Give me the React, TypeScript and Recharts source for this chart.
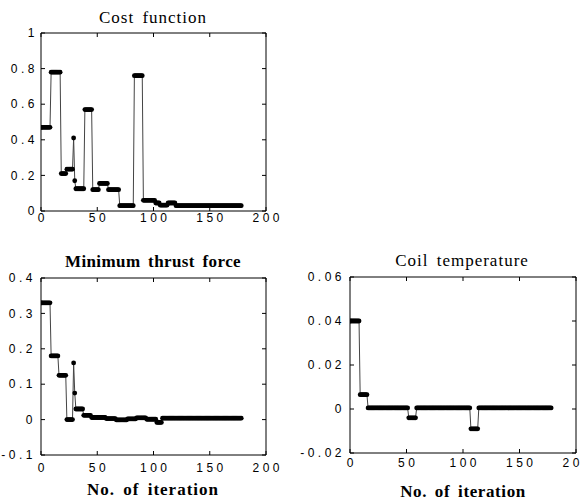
import { Line, LineChart, ReferenceArea, ReferenceLine, XAxis, YAxis } from "recharts"

// iteration ticks shared by all three panels
const iterTicks = [0, 50, 100, 150, 200]
const costTicks = [0, 0.2, 0.4, 0.6, 0.8, 1]
const thrustTicks = [-0.1, 0, 0.1, 0.2, 0.3, 0.4]
const coilTicks = [-0.02, 0, 0.02, 0.04, 0.06]

// one value per iteration (0..178)
const costFunction = [
  0.47, 0.47, 0.47, 0.47, 0.47, 0.47, 0.47, 0.47, 0.47, 0.78,
  0.78, 0.78, 0.78, 0.78, 0.78, 0.78, 0.78, 0.78, 0.21, 0.21,
  0.21, 0.21, 0.21, 0.235, 0.235, 0.235, 0.235, 0.235, 0.235, 0.41,
  0.17, 0.125, 0.125, 0.125, 0.125, 0.125, 0.125, 0.125, 0.125, 0.57,
  0.57, 0.57, 0.57, 0.57, 0.57, 0.57, 0.12, 0.12, 0.12, 0.12,
  0.12, 0.12, 0.155, 0.155, 0.155, 0.155, 0.155, 0.155, 0.155, 0.155,
  0.12, 0.12, 0.12, 0.12, 0.12, 0.12, 0.12, 0.12, 0.12, 0.12,
  0.03, 0.03, 0.03, 0.03, 0.03, 0.03, 0.03, 0.03, 0.03, 0.03,
  0.03, 0.03, 0.03, 0.76, 0.76, 0.76, 0.76, 0.76, 0.76, 0.76,
  0.76, 0.06, 0.06, 0.06, 0.06, 0.06, 0.06, 0.06, 0.06, 0.06,
  0.06, 0.06, 0.045, 0.045, 0.045, 0.045, 0.033, 0.033, 0.033, 0.033,
  0.033, 0.033, 0.033, 0.045, 0.045, 0.045, 0.045, 0.045, 0.045, 0.045,
  0.03, 0.03, 0.03, 0.03, 0.03, 0.03, 0.03, 0.03, 0.03, 0.03,
  0.03, 0.03, 0.03, 0.03, 0.03, 0.03, 0.03, 0.03, 0.03, 0.03,
  0.03, 0.03, 0.03, 0.03, 0.03, 0.03, 0.03, 0.03, 0.03, 0.03,
  0.03, 0.03, 0.03, 0.03, 0.03, 0.03, 0.03, 0.03, 0.03, 0.03,
  0.03, 0.03, 0.03, 0.03, 0.03, 0.03, 0.03, 0.03, 0.03, 0.03,
  0.03, 0.03, 0.03, 0.03, 0.03, 0.03, 0.03, 0.03, 0.03,
]

const thrustForce = [
  0.33, 0.33, 0.33, 0.33, 0.33, 0.33, 0.33, 0.33, 0.33, 0.18,
  0.18, 0.18, 0.18, 0.18, 0.18, 0.18, 0.125, 0.125, 0.125, 0.125,
  0.125, 0.125, 0.125, 0, 0, 0, 0, 0, 0, 0.16,
  0.075, 0.03, 0.03, 0.03, 0.03, 0.03, 0.03, 0.03, 0.012, 0.012,
  0.012, 0.012, 0.012, 0.012, 0.012, 0.006, 0.006, 0.006, 0.006, 0.006,
  0.006, 0.006, 0.006, 0.006, 0.006, 0.006, 0.006, 0.006, 0.003, 0.003,
  0.003, 0.003, 0.003, 0.003, 0.003, 0.003, 0.003, -0.001, -0.001, -0.001,
  -0.001, -0.001, -0.001, -0.001, -0.001, -0.001, -0.001, 0.002, 0.002, 0.002,
  0.002, 0.002, 0.002, 0.002, 0.002, 0.005, 0.005, 0.005, 0.005, 0.005,
  0.005, 0.005, 0.005, 0.005, 0.001, 0.001, 0.001, 0.001, 0.001, 0.001,
  0.001, 0.001, 0.001, -0.008, -0.008, -0.008, -0.008, -0.008, 0.004, 0.004,
  0.004, 0.004, 0.004, 0.004, 0.004, 0.004, 0.004, 0.004, 0.004, 0.004,
  0.004, 0.004, 0.004, 0.004, 0.004, 0.004, 0.004, 0.004, 0.004, 0.004,
  0.004, 0.004, 0.004, 0.004, 0.004, 0.004, 0.004, 0.004, 0.004, 0.004,
  0.004, 0.004, 0.004, 0.004, 0.004, 0.004, 0.004, 0.004, 0.004, 0.004,
  0.004, 0.004, 0.004, 0.004, 0.004, 0.004, 0.004, 0.004, 0.004, 0.004,
  0.004, 0.004, 0.004, 0.004, 0.004, 0.004, 0.004, 0.004, 0.004, 0.004,
  0.004, 0.004, 0.004, 0.004, 0.004, 0.004, 0.004, 0.004, 0.004,
]

const coilTemperature = [
  0.04, 0.04, 0.04, 0.04, 0.04, 0.04, 0.04, 0.04, 0.04, 0.0065,
  0.0065, 0.0065, 0.0065, 0.0065, 0.0065, 0.0065, 0.0005, 0.0005, 0.0005, 0.0005,
  0.0005, 0.0005, 0.0005, 0.0005, 0.0005, 0.0005, 0.0005, 0.0005, 0.0005, 0.0005,
  0.0005, 0.0005, 0.0005, 0.0005, 0.0005, 0.0005, 0.0005, 0.0005, 0.0005, 0.0005,
  0.0005, 0.0005, 0.0005, 0.0005, 0.0005, 0.0005, 0.0005, 0.0005, 0.0005, 0.0005,
  0.0005, 0.0005, -0.004, -0.004, -0.004, -0.004, -0.004, -0.004, -0.004, 0.0005,
  0.0005, 0.0005, 0.0005, 0.0005, 0.0005, 0.0005, 0.0005, 0.0005, 0.0005, 0.0005,
  0.0005, 0.0005, 0.0005, 0.0005, 0.0005, 0.0005, 0.0005, 0.0005, 0.0005, 0.0005,
  0.0005, 0.0005, 0.0005, 0.0005, 0.0005, 0.0005, 0.0005, 0.0005, 0.0005, 0.0005,
  0.0005, 0.0005, 0.0005, 0.0005, 0.0005, 0.0005, 0.0005, 0.0005, 0.0005, 0.0005,
  0.0005, 0.0005, 0.0005, 0.0005, 0.0005, 0.0005, 0.0005, -0.009, -0.009, -0.009,
  -0.009, -0.009, -0.009, -0.009, 0.0005, 0.0005, 0.0005, 0.0005, 0.0005, 0.0005,
  0.0005, 0.0005, 0.0005, 0.0005, 0.0005, 0.0005, 0.0005, 0.0005, 0.0005, 0.0005,
  0.0005, 0.0005, 0.0005, 0.0005, 0.0005, 0.0005, 0.0005, 0.0005, 0.0005, 0.0005,
  0.0005, 0.0005, 0.0005, 0.0005, 0.0005, 0.0005, 0.0005, 0.0005, 0.0005, 0.0005,
  0.0005, 0.0005, 0.0005, 0.0005, 0.0005, 0.0005, 0.0005, 0.0005, 0.0005, 0.0005,
  0.0005, 0.0005, 0.0005, 0.0005, 0.0005, 0.0005, 0.0005, 0.0005, 0.0005, 0.0005,
  0.0005, 0.0005, 0.0005, 0.0005, 0.0005, 0.0005, 0.0005, 0.0005, 0.0005,
]

const TICK_LEN = 4
const tickText = {
  fontFamily: "Arial, 'Liberation Sans', sans-serif",
  fontSize: 12,
  letterSpacing: 3.5,
  fill: "#000",
}

const serif = "'Liberation Serif', 'Times New Roman', serif"

type PanelProps = {
  values: number[]
  yTicks: number[]
  left: number
  top: number
  width: number
  height: number
  margin: { top: number; right: number; bottom: number; left: number }
  yAxisWidth: number
  xAxisHeight: number
  xLabelDy: number
  yLabelGap: number
}

function Panel({
  values,
  yTicks,
  left,
  top,
  width,
  height,
  margin,
  yAxisWidth,
  xAxisHeight,
  xLabelDy,
  yLabelGap,
}: PanelProps) {
  const data = values.map((v, i) => ({ it: i, v }))
  const yMin = yTicks[0]
  const yMax = yTicks[yTicks.length - 1]

  // inward tick length expressed in data units of each axis
  const plotW = width - margin.left - margin.right - yAxisWidth
  const plotH = height - margin.top - margin.bottom - xAxisHeight
  const dx = (TICK_LEN * 200) / plotW
  const dy = (TICK_LEN * (yMax - yMin)) / plotH

  const tickLine = { stroke: "#000", strokeWidth: 1, ifOverflow: "visible" as const }

  return (
    <div style={{ position: "absolute", left, top }}>
      <LineChart width={width} height={height} data={data} margin={margin}>
        <XAxis
          xAxisId="b"
          dataKey="it"
          type="number"
          domain={[0, 200]}
          ticks={iterTicks}
          interval={0}
          allowDataOverflow
          height={xAxisHeight}
          axisLine={false}
          tickLine={false}
          tickSize={0}
          tickMargin={0}
          tick={(p: any) => (
            <text x={p.x + 1.75} y={p.y + xLabelDy} textAnchor="middle" style={tickText}>
              {String(p.payload.value)}
            </text>
          )}
        />
        <YAxis
          yAxisId="l"
          dataKey="v"
          type="number"
          domain={[yMin, yMax]}
          ticks={yTicks}
          interval={0}
          allowDataOverflow
          width={yAxisWidth}
          axisLine={false}
          tickLine={false}
          tickSize={0}
          tickMargin={0}
          tick={(p: any) => (
            <text x={p.x - yLabelGap} y={p.y} dy="0.35em" textAnchor="end" style={tickText}>
              {String(p.payload.value)}
            </text>
          )}
        />

        {/* frame */}
        <ReferenceArea
          xAxisId="b"
          yAxisId="l"
          x1={0}
          x2={200}
          y1={yMin}
          y2={yMax}
          fill="none"
          stroke="#000"
          strokeWidth={1}
          ifOverflow="visible"
        />

        {/* inward ticks on all four sides */}
        {iterTicks.map((t) => (
          <ReferenceLine
            key={`xb${t}`}
            xAxisId="b"
            yAxisId="l"
            segment={[{ x: t, y: yMin }, { x: t, y: yMin + dy }]}
            {...tickLine}
          />
        ))}
        {iterTicks.map((t) => (
          <ReferenceLine
            key={`xt${t}`}
            xAxisId="b"
            yAxisId="l"
            segment={[{ x: t, y: yMax }, { x: t, y: yMax - dy }]}
            {...tickLine}
          />
        ))}
        {yTicks.map((t) => (
          <ReferenceLine
            key={`yl${t}`}
            xAxisId="b"
            yAxisId="l"
            segment={[{ x: 0, y: t }, { x: dx, y: t }]}
            {...tickLine}
          />
        ))}
        {yTicks.map((t) => (
          <ReferenceLine
            key={`yr${t}`}
            xAxisId="b"
            yAxisId="l"
            segment={[{ x: 200, y: t }, { x: 200 - dx, y: t }]}
            {...tickLine}
          />
        ))}

        <Line
          xAxisId="b"
          yAxisId="l"
          type="linear"
          dataKey="v"
          stroke="#444"
          strokeWidth={1}
          dot={{ r: 2.4, fill: "#000", stroke: "none", strokeWidth: 0 }}
          isAnimationActive={false}
        />
      </LineChart>
    </div>
  )
}

function Caption({
  x,
  y,
  text,
  size,
  bold,
  spacing = 1,
}: {
  x: number
  y: number
  text: string
  size: number
  bold?: boolean
  spacing?: number
}) {
  return (
    <div
      style={{
        position: "absolute",
        left: x,
        top: y,
        transform: "translate(-50%, -50%)",
        whiteSpace: "nowrap",
        lineHeight: 1,
        fontFamily: serif,
        fontSize: size,
        fontWeight: bold ? 700 : 400,
        letterSpacing: spacing,
        wordSpacing: 3,
        color: "#000",
      }}
    >
      {text}
    </div>
  )
}

export default function App() {
  return (
    <div
      style={{
        position: "absolute",
        left: 0,
        top: 0,
        width: 581,
        height: 503,
        background: "#fff",
        overflow: "hidden",
      }}
    >
      <Panel
        values={costFunction}
        yTicks={costTicks}
        left={0}
        top={0}
        width={290}
        height={240}
        margin={{ top: 33, right: 24, bottom: 9, left: 0 }}
        yAxisWidth={41}
        xAxisHeight={20}
        xLabelDy={11}
        yLabelGap={3}
      />
      <Panel
        values={thrustForce}
        yTicks={thrustTicks}
        left={0}
        top={240}
        width={290}
        height={263}
        margin={{ top: 38, right: 24, bottom: 18, left: 0 }}
        yAxisWidth={41}
        xAxisHeight={30}
        xLabelDy={17}
        yLabelGap={5}
      />
      <Panel
        values={coilTemperature}
        yTicks={coilTicks}
        left={290}
        top={240}
        width={291}
        height={263}
        margin={{ top: 37, right: 5, bottom: 20, left: 0 }}
        yAxisWidth={60}
        xAxisHeight={30}
        xLabelDy={14}
        yLabelGap={5}
      />
      <Caption x={153} y={17} text="Cost function" size={17} />
      <Caption x={153} y={261} text="Minimum thrust force" size={17} bold spacing={0.4} />
      <Caption x={462} y={260} text="Coil temperature" size={17} />
      <Caption x={153} y={489} text="No. of iteration" size={17} bold />
      <Caption x={463} y={491} text="No. of iteration" size={17} bold spacing={0.6} />
    </div>
  )
}
